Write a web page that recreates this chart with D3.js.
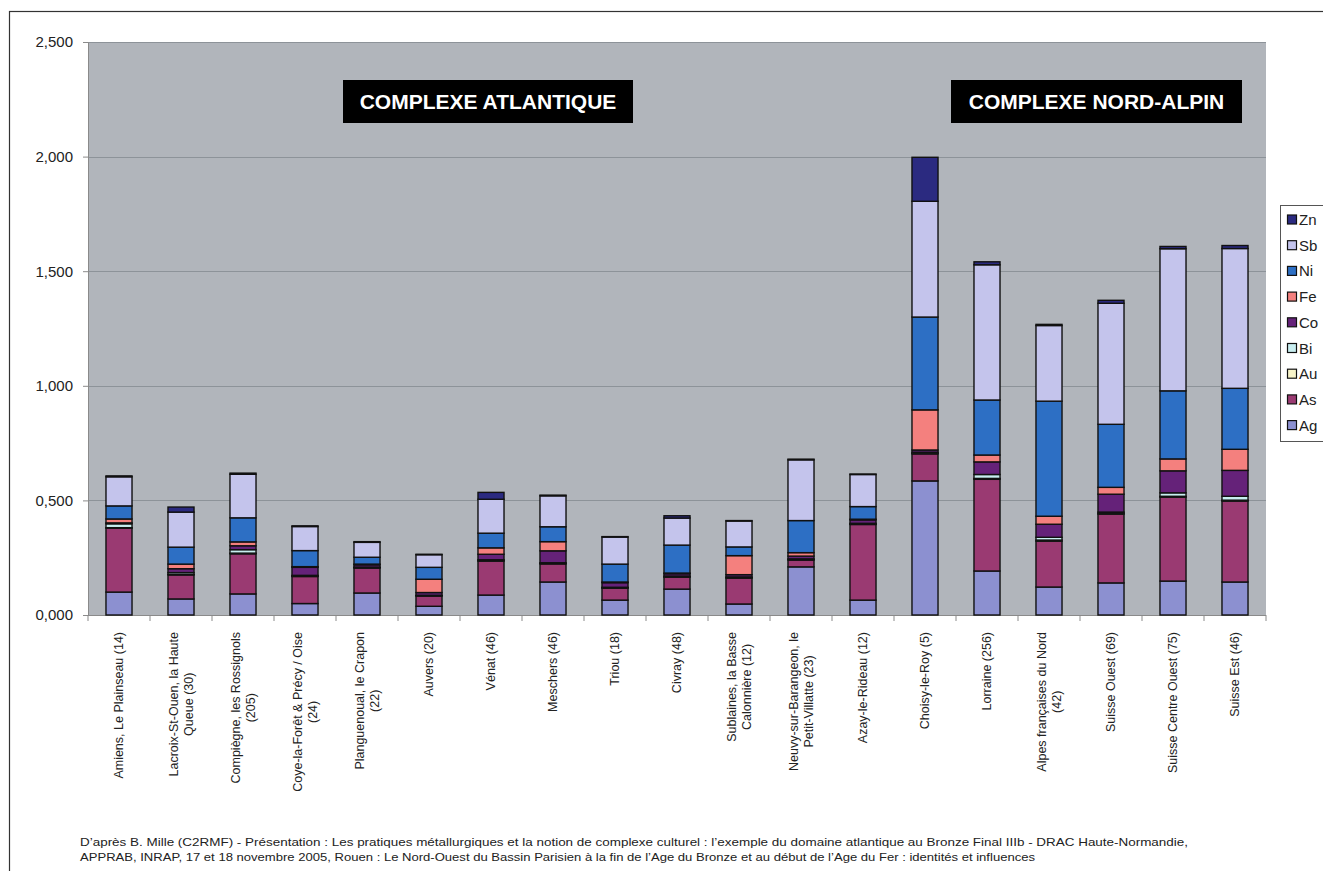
<!DOCTYPE html>
<html>
<head>
<meta charset="utf-8">
<script src="https://cdn.jsdelivr.net/npm/d3@7"></script>
<style>
  html, body { margin: 0; padding: 0; background: #ffffff; }
  svg { display: block; }
</style>
</head>
<body>
<svg id="chart" width="1323" height="871"></svg>
<script>
// ---------- DATA ----------
const categories = [
  ["Amiens, Le Plainseau (14)"],
  ["Lacroix-St-Ouen, la Haute", "Queue (30)"],
  ["Compiègne, les Rossignols", "(205)"],
  ["Coye-la-Forêt & Précy / Oise", "(24)"],
  ["Planguenoual, le Crapon", "(22)"],
  ["Auvers (20)"],
  ["Vénat (46)"],
  ["Meschers (46)"],
  ["Triou (18)"],
  ["Civray (48)"],
  ["Sublaines, la Basse", "Calonnière (12)"],
  ["Neuvy-sur-Barangeon, le", "Petit-Villatte (23)"],
  ["Azay-le-Rideau (12)"],
  ["Choisy-le-Roy (5)"],
  ["Lorraine (256)"],
  ["Alpes françaises du Nord", "(42)"],
  ["Suisse Ouest (69)"],
  ["Suisse Centre Ouest (75)"],
  ["Suisse Est (46)"]
];

const seriesNames = ["Ag", "As", "Au", "Bi", "Co", "Fe", "Ni", "Sb", "Zn"];

const Ag = [0.100, 0.070, 0.092, 0.050, 0.096, 0.038, 0.087, 0.144, 0.065, 0.113, 0.048, 0.210, 0.065, 0.585, 0.192, 0.122, 0.140, 0.148, 0.144];
const As = [0.279, 0.105, 0.175, 0.118, 0.109, 0.045, 0.148, 0.079, 0.052, 0.052, 0.113, 0.030, 0.330, 0.118, 0.400, 0.200, 0.300, 0.366, 0.353];
const Au = [0.002, 0.002, 0.003, 0.002, 0.002, 0.001, 0.003, 0.002, 0.002, 0.002, 0.002, 0.002, 0.002, 0.003, 0.004, 0.005, 0.004, 0.004, 0.004];
const Bi = [0.017, 0.008, 0.015, 0.003, 0.002, 0.002, 0.003, 0.003, 0.002, 0.003, 0.003, 0.003, 0.003, 0.004, 0.017, 0.012, 0.005, 0.015, 0.017];
const Co = [0.004, 0.017, 0.017, 0.035, 0.010, 0.012, 0.024, 0.052, 0.020, 0.010, 0.010, 0.012, 0.015, 0.010, 0.055, 0.057, 0.078, 0.096, 0.113];
const Fe = [0.017, 0.020, 0.017, 0.003, 0.003, 0.058, 0.028, 0.040, 0.003, 0.003, 0.083, 0.015, 0.003, 0.175, 0.030, 0.035, 0.030, 0.052, 0.092];
const Ni = [0.057, 0.074, 0.105, 0.070, 0.030, 0.052, 0.064, 0.065, 0.078, 0.122, 0.038, 0.140, 0.055, 0.405, 0.240, 0.502, 0.275, 0.297, 0.266];
const Sb = [0.127, 0.153, 0.190, 0.105, 0.065, 0.055, 0.148, 0.135, 0.118, 0.118, 0.113, 0.265, 0.140, 0.505, 0.590, 0.330, 0.528, 0.620, 0.610];
const Zn = [0.004, 0.022, 0.005, 0.003, 0.003, 0.002, 0.030, 0.003, 0.002, 0.010, 0.002, 0.003, 0.002, 0.192, 0.013, 0.005, 0.013, 0.010, 0.013];

const yTicks = [0, 0.5, 1.0, 1.5, 2.0, 2.5];

const groupLabels = ["COMPLEXE ATLANTIQUE", "COMPLEXE NORD-ALPIN"];

const captionLines = [
  "D’après B. Mille (C2RMF) - Présentation : Les pratiques métallurgiques et la notion de complexe culturel : l’exemple du domaine atlantique au Bronze Final IIIb - DRAC Haute-Normandie,",
  "APPRAB, INRAP, 17 et 18 novembre 2005, Rouen : Le Nord-Ouest du Bassin Parisien à la fin de l’Age du Bronze et au début de l’Age du Fer : identités et influences"
];

// ---------- STYLE ----------
const colors = {
  Ag: "#8c90d0", As: "#9a3a72", Au: "#f8f4c8", Bi: "#c8eef0", Co: "#652279",
  Fe: "#f4807e", Ni: "#2d6fc4", Sb: "#c4c4ec", Zn: "#2b2a80"
};

const svg = d3.select("#chart");
const font = "'Liberation Sans', Arial, Helvetica, sans-serif";

// outer frame
svg.append("rect")
  .attr("x", 9.5).attr("y", 11.5)
  .attr("width", 1400).attr("height", 900)
  .attr("fill", "#ffffff").attr("stroke", "#333").attr("stroke-width", 1.2);

const plot = { left: 88, top: 42, right: 1266, bottom: 615 };

const x = d3.scaleBand()
  .domain(d3.range(categories.length))
  .range([plot.left, plot.right])
  .paddingInner(0.58).paddingOuter(0.29);

const y = d3.scaleLinear().domain([0, 2.5]).range([plot.bottom, plot.top]);

// plot background
svg.append("rect")
  .attr("x", plot.left).attr("y", plot.top)
  .attr("width", plot.right - plot.left).attr("height", plot.bottom - plot.top)
  .attr("fill", "#b1b5bb");

// gridlines
svg.append("g").selectAll("line")
  .data(yTicks.filter(d => d > 0))
  .join("line")
  .attr("x1", plot.left).attr("x2", plot.right)
  .attr("y1", d => Math.round(y(d)) + 0.5).attr("y2", d => Math.round(y(d)) + 0.5)
  .attr("stroke", "#8d9399").attr("stroke-width", 1.2);

// y axis
const fmt = v => d3.format(".3f")(v).replace(".", ",");
const yAxis = svg.append("g")
  .attr("transform", `translate(${plot.left},0)`)
  .call(d3.axisLeft(y).tickValues(yTicks).tickFormat(fmt).tickSize(5).tickPadding(10));
yAxis.select(".domain").attr("stroke", "#8a8a8a");
yAxis.selectAll(".tick line").attr("stroke", "#8a8a8a");
yAxis.selectAll(".tick text")
  .attr("font-family", font).attr("font-size", 15).attr("fill", "#222");

// x axis
const bandStep = x.step();
const xAxisG = svg.append("g");
xAxisG.append("line")
  .attr("x1", plot.left).attr("x2", plot.right)
  .attr("y1", plot.bottom + 0.5).attr("y2", plot.bottom + 0.5)
  .attr("stroke", "#8a8a8a").attr("stroke-width", 1.2);
xAxisG.selectAll("line.tk")
  .data(d3.range(categories.length + 1))
  .join("line").attr("class", "tk")
  .attr("x1", i => plot.left + i * bandStep).attr("x2", i => plot.left + i * bandStep)
  .attr("y1", plot.bottom).attr("y2", plot.bottom + 6)
  .attr("stroke", "#8a8a8a");

// stacked bars
const table = categories.map((c, i) => {
  const row = { idx: i };
  const src = { Ag, As, Au, Bi, Co, Fe, Ni, Sb, Zn };
  seriesNames.forEach(s => row[s] = src[s][i]);
  return row;
});
const stacked = d3.stack().keys(seriesNames)(table);

svg.append("g").selectAll("g")
  .data(stacked)
  .join("g")
  .attr("fill", d => colors[d.key])
  .selectAll("rect")
  .data(d => d)
  .join("rect")
  .attr("x", d => x(d.data.idx))
  .attr("width", x.bandwidth())
  .attr("y", d => y(d[1]))
  .attr("height", d => Math.max(0, y(d[0]) - y(d[1])))
  .attr("stroke", "#111")
  .attr("stroke-width", 1.4);

// category labels (rotated, wrapped)
const labelTop = 632;
const lg = svg.append("g");
categories.forEach((lines, i) => {
  const cx = x(i) + x.bandwidth() / 2;
  const g = lg.append("g").attr("transform", `translate(${cx},${labelTop}) rotate(-90)`);
  const texts = lines.map((t, j) => g.append("text")
    .attr("font-family", font).attr("font-size", 12.5).attr("fill", "#222")
    .attr("text-anchor", "middle")
    .attr("y", (j - (lines.length - 1) / 2) * 15)
    .attr("dy", "0.35em")
    .text(t));
  const maxLen = d3.max(texts, t => t.node().getComputedTextLength());
  texts.forEach(t => t.attr("x", -maxLen / 2));
});

// group annotation boxes
const boxes = [
  { label: groupLabels[0], x0: 343, x1: 633 },
  { label: groupLabels[1], x0: 951, x1: 1242 }
];
boxes.forEach(b => {
  svg.append("rect").attr("x", b.x0).attr("y", 80)
    .attr("width", b.x1 - b.x0).attr("height", 43).attr("fill", "#000");
  svg.append("text").attr("x", (b.x0 + b.x1) / 2).attr("y", 109)
    .attr("text-anchor", "middle")
    .attr("font-family", font).attr("font-weight", "bold").attr("font-size", 21)
    .attr("fill", "#fff").text(b.label);
});

// legend
const legend = svg.append("g");
legend.append("rect").attr("x", 1280.5).attr("y", 205.5)
  .attr("width", 80).attr("height", 236)
  .attr("fill", "#ffffff").attr("stroke", "#555").attr("stroke-width", 1);
const legendOrder = seriesNames.slice().reverse();
legendOrder.forEach((s, i) => {
  const cy = 220 + i * 25.7;
  legend.append("rect").attr("x", 1287.5).attr("y", cy - 5)
    .attr("width", 9).attr("height", 9)
    .attr("fill", colors[s]).attr("stroke", "#111").attr("stroke-width", 1.2);
  legend.append("text").attr("x", 1299).attr("y", cy + 5)
    .attr("font-family", font).attr("font-size", 15).attr("fill", "#222")
    .text(s);
});

// caption
const capWidths = [1108, 955];
captionLines.forEach((t, i) => {
  svg.append("text").attr("x", 80).attr("y", 846 + i * 15)
    .attr("font-family", font).attr("font-size", 11.5).attr("fill", "#222")
    .attr("textLength", capWidths[i]).attr("lengthAdjust", "spacingAndGlyphs")
    .text(t);
});
</script>
</body>
</html>
